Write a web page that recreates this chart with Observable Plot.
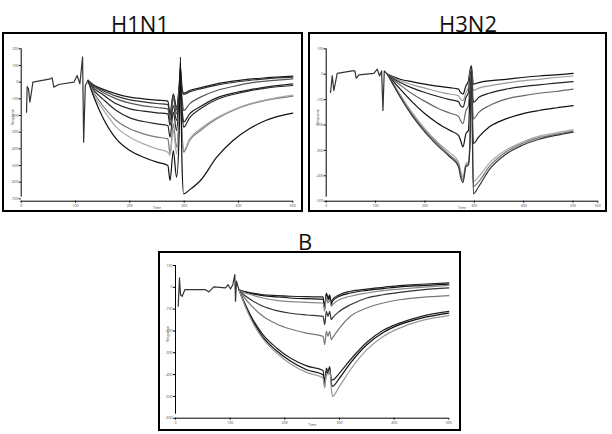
<!DOCTYPE html>
<html><head><meta charset="utf-8">
<script src="https://cdn.jsdelivr.net/npm/d3@7"></script>
<script src="https://cdn.jsdelivr.net/npm/@observablehq/plot@0.6"></script>
<style>
body{margin:0;background:#fff;}
#root{position:relative;width:612px;height:434px;overflow:hidden;font-family:"Open Sans",sans-serif;}
.box{position:absolute;border:2px solid #000;box-sizing:border-box;pointer-events:none;}
.title{position:absolute;font-size:22px;line-height:22px;color:#111;text-align:center;width:120px;}
.panel{position:absolute;}
</style></head><body><div id="root"></div>
<script>
// ---------- data ----------
const titles = ["H1N1", "H3N2", "B"];
const yAxisLabel = "Response";
const xAxisLabel = "Time";

// H1N1
const h1XTicks = [0, 100, 200, 300, 400, 500];
const h1YTicks = [200, 100, 0, -100, -200, -300, -400, -500, -600, -700];
const h1BaseT = [9.8, 11, 13.5, 16, 18.4, 21.5, 54, 57, 60, 69, 97, 103, 108, 113, 115, 118, 123];
const h1BaseV = [-180, -26, -40, -120, -70, 0, 20, 26, -30, -14, 0, 40, -10, 150, -360, -20, 10];
const h1T = [123, 135, 150, 175, 200, 225, 250, 270, 274, 280, 286, 291, 293, 296, 299, 310, 330, 360, 390, 420, 450, 500];
const h1c1 = [10, -20, -42, -70, -90, -100, -108, -114, -190, -70, -150, -10, 90, -30, -66, -50, -34, -10, 6, 18, 26, 36];
const h1c2 = [10, -26, -50, -84, -106, -118, -128, -134, -206, -80, -166, -20, 50, -50, -74, -58, -40, -18, -2, 10, 20, 30];
const h1c3 = [10, -30, -60, -100, -126, -142, -152, -160, -230, -100, -190, -50, 10, -90, -170, -130, -90, -50, -26, -6, 6, 20];
const h1c4 = [10, -40, -74, -130, -160, -174, -184, -190, -260, -140, -230, -90, -30, -150, -240, -190, -146, -94, -66, -46, -30, -10];
const h1c5 = [10, -54, -100, -170, -214, -236, -250, -260, -330, -180, -290, -110, -50, -190, -270, -214, -160, -104, -74, -52, -36, -20];
const h1c6 = [10, -70, -140, -230, -280, -310, -330, -340, -430, -250, -390, -190, -90, -290, -420, -350, -290, -220, -170, -134, -110, -84];
const h1c7 = [10, -86, -160, -270, -330, -370, -400, -420, -440, -290, -430, -210, -110, -330, -410, -340, -280, -214, -166, -130, -106, -78];
const h1c8 = [10, -100, -210, -340, -410, -450, -480, -500, -590, -410, -570, -290, 150, -490, -670, -646, -590, -450, -350, -280, -230, -186];
const h1Colors = ["#1a1a1a", "#333", "#555", "#222", "#2a2a2a", "#777", "#aaa", "#111"];

// H3N2
const h3XTicks = [0, 100, 200, 300, 400, 500, 550];
const h3YTicks = [100, 0, -100, -200, -300, -400, -500];
const h3BaseT = [8.8, 12.2, 15.5, 22.3, 52.7, 58.1, 60.8, 66.2, 96.6, 103.4, 108.1, 112.2, 114.9, 117.6, 124];
const h3BaseV = [-72, -6, -65, 3, 13, 13, -16, -3, 3, 20, -7, 13, -143, 13, 0];
const h3T = [124, 135, 150, 175, 200, 225, 250, 268, 272, 277, 283, 288, 291, 294, 298, 309, 330, 364, 397, 431, 465, 500];
const h3c1 = [0, -9, -20, -30, -39, -47, -53, -59, -72, -78, -46, -26, 13, 33, -39, -33, -26, -20, -13, -7, -3, 3];
const h3c2 = [0, -13, -26, -42, -55, -68, -78, -85, -98, -104, -72, -52, 0, 20, -65, -55, -46, -35, -26, -20, -13, -7];
const h3c3 = [0, -16, -33, -55, -72, -87, -100, -108, -124, -130, -91, -72, -13, 13, -111, -91, -75, -59, -49, -42, -35, -29];
const h3c4 = [0, -20, -43, -78, -107, -133, -153, -166, -182, -195, -143, -124, -39, 0, -176, -150, -124, -98, -85, -75, -68, -59];
const h3c5 = [0, -26, -59, -111, -156, -192, -221, -241, -260, -286, -234, -221, -91, -13, -273, -247, -208, -176, -156, -143, -133, -124];
const h3c6 = [0, -34, -81, -153, -215, -267, -309, -346, -377, -403, -351, -345, -260, -39, -423, -403, -351, -299, -267, -244, -231, -218];
const h3c7 = [0, -36, -86, -160, -221, -273, -319, -355, -390, -416, -358, -351, -273, 13, -442, -423, -364, -306, -273, -250, -237, -224];
const h3c8 = [0, -39, -91, -166, -228, -280, -325, -364, -403, -426, -364, -358, -286, 33, -471, -442, -377, -315, -280, -256, -241, -228];
const h3Colors = ["#111", "#999", "#222", "#666", "#111", "#aaa", "#777", "#333"];

// B
const bXTicks = [0, 100, 200, 300, 400, 500];
const bYTicks = [100, 0, -100, -200, -300, -400, -500, -600];
const bBaseT = [4.9, 7.3, 9.1, 12.2, 17.1, 54.9, 61, 70.1, 91.5, 96.3, 100.6, 104.9, 108.5, 109.8, 111.6, 116];
const bBaseV = [-87, 43, -34, -41, -11, -11, -21, 2, -3, 12, -8, 12, 58, -64, 28, -11];
const bT = [116, 125, 140, 160, 185, 210, 240, 270, 273, 276, 279, 282, 285, 287, 300, 320, 350, 380, 410, 450, 500];
const bc1 = [-11, -18, -26, -34, -38, -41, -43, -44, -95, -26, -49, -34, -72, -57, -34, -18, -8, 0, 8, 14, 20];
const bc2 = [-11, -20, -29, -38, -44, -49, -52, -54, -99, -31, -57, -41, -80, -64, -41, -26, -14, -6, 2, 8, 15];
const bc3 = [-11, -23, -35, -49, -60, -66, -69, -72, -110, -41, -72, -57, -87, -80, -57, -41, -26, -15, -8, 0, 9];
const bc4 = [-11, -34, -60, -87, -107, -119, -127, -133, -171, -110, -133, -110, -148, -141, -110, -80, -49, -34, -23, -12, -3];
const bc5 = [-11, -44, -87, -133, -168, -191, -210, -225, -263, -202, -225, -202, -240, -233, -187, -133, -95, -72, -57, -46, -38];
const bc6 = [-11, -64, -141, -217, -278, -324, -360, -381, -439, -370, -386, -363, -424, -424, -393, -332, -252, -197, -164, -133, -110];
const bc7 = [-11, -67, -148, -228, -291, -338, -378, -401, -454, -386, -393, -370, -439, -454, -416, -347, -263, -207, -171, -141, -118];
const bc8 = [-11, -72, -156, -237, -301, -350, -390, -416, -462, -393, -401, -378, -462, -500, -454, -378, -286, -225, -187, -153, -130];
const bColors = ["#222", "#111", "#888", "#333", "#777", "#222", "#111", "#999"];

// ---------- build ----------
function baseRows(baseT, baseV) {
  return baseT.map((t, i) => ({t, v: baseV[i], s: "base", c: "#333"}));
}
function curveRows(T, curves, colors) {
  const rows = [];
  curves.forEach((arr, k) => arr.forEach((v, i) => rows.push({t: T[i], v, s: "c" + k, c: colors[k]})));
  return rows;
}

const panels = [
  {title: titles[0], tx: 140, ty: 11.5, box: [2, 32, 301, 180], m: [16.3, 10.7, 11.3, 18.7],
   xd: [0, 500], yd: [-714, 200], xt: h1XTicks, yt: h1YTicks,
   base: baseRows(h1BaseT, h1BaseV),
   curves: curveRows(h1T, [h1c1, h1c2, h1c3, h1c4, h1c5, h1c6, h1c7, h1c8], h1Colors)},
  {title: titles[1], tx: 468, ty: 11.5, box: [308, 32, 299, 180], m: [16.3, 9.7, 11.3, 17.7],
   xd: [0, 550], yd: [-500, 100], xt: h3XTicks, yt: h3YTicks,
   base: baseRows(h3BaseT, h3BaseV),
   curves: curveRows(h3T, [h3c1, h3c2, h3c3, h3c4, h3c5, h3c6, h3c7, h3c8], h3Colors)},
  {title: titles[2], tx: 305, ty: 229.5, box: [158, 251, 303, 180], m: [14, 12.7, 13.3, 17],
   xd: [0, 500], yd: [-600, 100], xt: bXTicks, yt: bYTicks,
   base: baseRows(bBaseT, bBaseV),
   curves: curveRows(bT, [bc1, bc2, bc3, bc4, bc5, bc6, bc7, bc8], bColors)}
];

const root = document.getElementById("root");
for (const p of panels) {
  const [bx, by, bw, bh] = p.box;
  const [mt, mr, mb, ml] = p.m;
  const svg = Plot.plot({
    width: bw, height: bh,
    marginTop: mt, marginRight: mr, marginBottom: mb, marginLeft: ml,
    style: {background: "transparent", fontFamily: "Open Sans, sans-serif"},
    x: {domain: p.xd, axis: null},
    y: {domain: p.yd, axis: null},
    color: {type: "identity"},
    marks: [
      Plot.axisX({ticks: p.xt, tickSize: 2, tickPadding: 1, fontSize: 3.5, fill: "#444", label: null, tickFormat: d => String(d)}),
      Plot.axisY({ticks: p.yt, tickSize: 2, tickPadding: 1, fontSize: 3.5, fill: "#444", label: null, tickFormat: d => String(d)}),
      Plot.ruleX([p.xd[0]], {y1: p.yd[0], y2: p.yd[1], stroke: "#000", strokeWidth: 1, insetTop: -4}),
      Plot.ruleY([p.yd[0]], {x1: p.xd[0], x2: p.xd[1], stroke: "#000", strokeWidth: 1}),
      Plot.text([yAxisLabel], {frameAnchor: "left", dx: -8, rotate: -90, fontSize: 3.5, fill: "#444"}),
      Plot.text([xAxisLabel], {frameAnchor: "bottom", dy: 8, fontSize: 3.5, fill: "#444"}),
      Plot.line(p.base, {x: "t", y: "v", stroke: "c", strokeWidth: 1.2, curve: "linear"}),
      Plot.line(p.curves, {x: "t", y: "v", z: "s", stroke: "c", strokeWidth: 1.2, curve: "monotone-x"})
    ]
  });
  const holder = document.createElement("div");
  holder.className = "panel";
  holder.style.left = bx + "px"; holder.style.top = by + "px";
  holder.appendChild(svg);
  root.appendChild(holder);
  const box = document.createElement("div");
  box.className = "box";
  box.style.left = bx + "px"; box.style.top = by + "px";
  box.style.width = bw + "px"; box.style.height = bh + "px";
  root.appendChild(box);
  const t = document.createElement("div");
  t.className = "title";
  t.textContent = p.title;
  t.style.left = (p.tx - 60) + "px"; t.style.top = p.ty + "px";
  root.appendChild(t);
}
</script></body></html>
